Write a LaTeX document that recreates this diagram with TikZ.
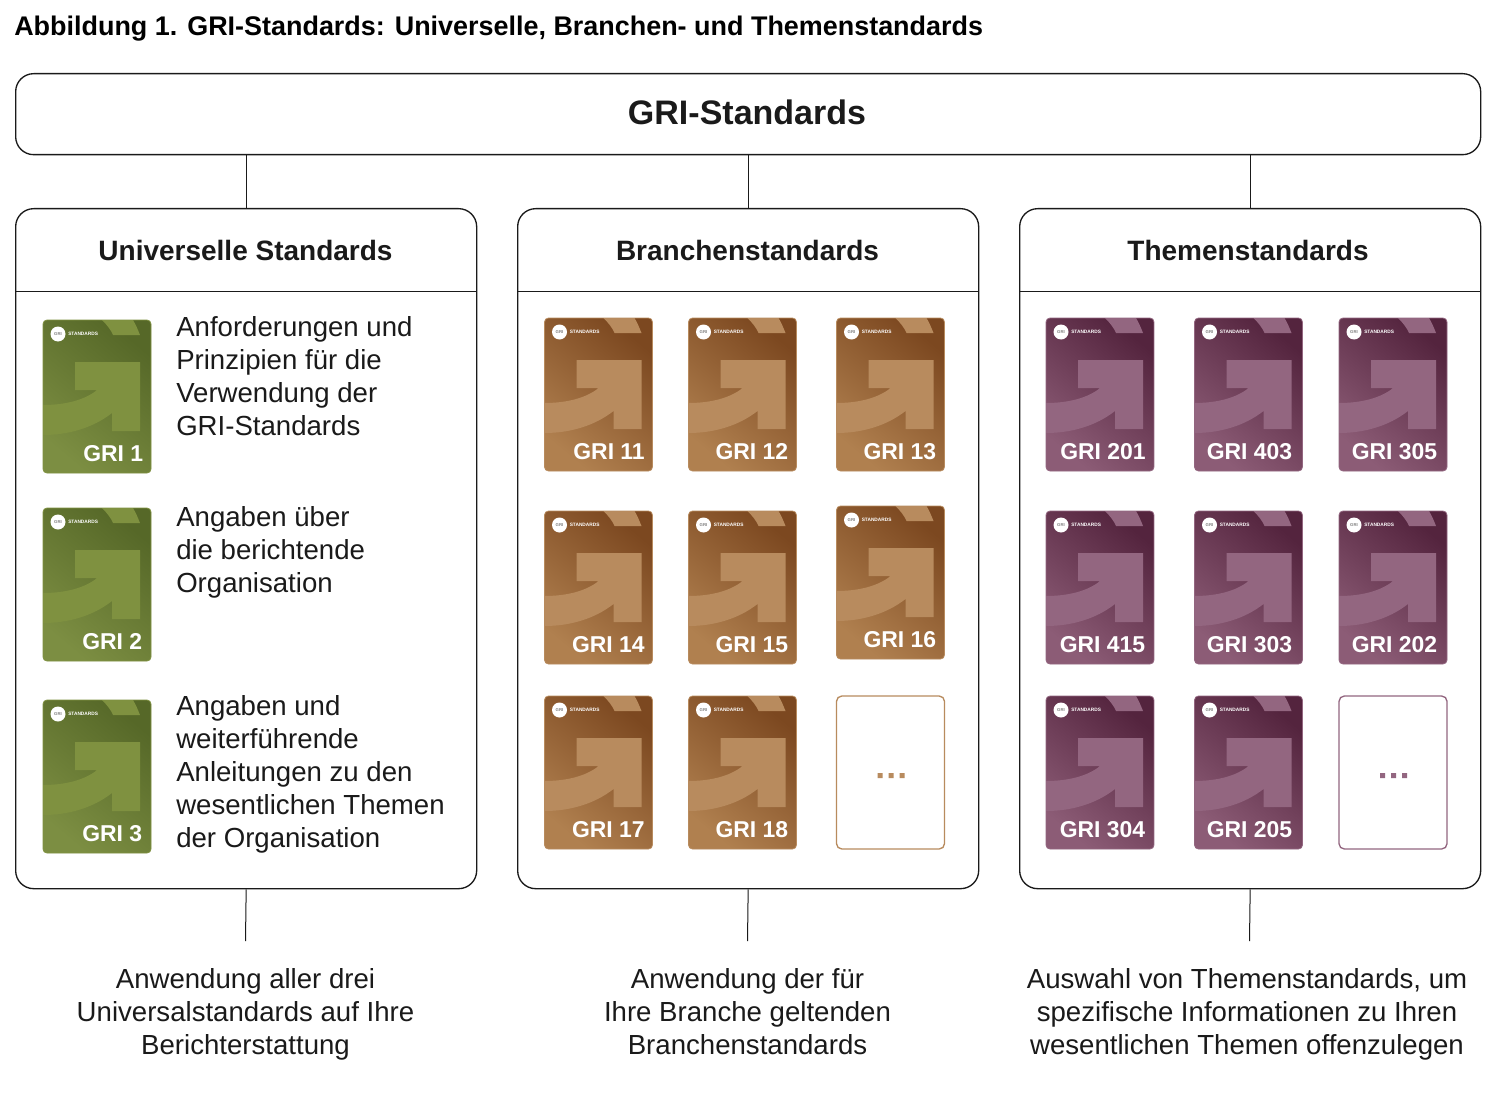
\documentclass[tikz,border=0pt]{standalone}
\usepackage{fontspec}
\setmainfont{Liberation Sans}
\newcommand{\pxfont}[2]{\fontsize{#1pt}{#2pt}\selectfont}
\definecolor{inkc}{HTML}{1A1A1A}
\definecolor{glo}{HTML}{7C8E42}\definecolor{ghi}{HTML}{566828}\definecolor{garr}{HTML}{7F9140}
\definecolor{blo}{HTML}{B0804F}\definecolor{bhi}{HTML}{7C4820}\definecolor{barr}{HTML}{B88B5E}
\definecolor{plo}{HTML}{8C5C76}\definecolor{phi}{HTML}{54243E}\definecolor{parr}{HTML}{936680}
\tikzset{x=0.75pt,y=-0.75pt,
  panel/.style={draw=inkc,line width=1pt,rounded corners=13.5pt,fill=white},
  link/.style={draw=inkc,line width=0.75pt},
  headtext/.style={font=\bfseries\pxfont{21}{25},text=inkc,anchor=base,inner sep=0pt},
  bodytext/.style={font=\pxfont{20.7}{24.75},text=inkc,anchor=north west,align=left,inner sep=0pt},
  foottext/.style={font=\pxfont{20.7}{24.75},text=inkc,anchor=north,align=center,inner sep=0pt},
  cardlabel/.style={font=\bfseries\pxfont{17.2}{20},text=white,anchor=base east,inner sep=0pt},
}
% name, x, y, label, low colour, high colour, arrow colour, label offset
\newcommand{\gribook}[8]{%
\begin{scope}[shift={(#2,#3)}]
  \begin{scope}
    \clip[rounded corners=3pt] (0,0) rectangle (108,153);
    \shade[bottom color=#5,top color=#6,shading angle=-40] (0,0) rectangle (108,153);
    \fill[#7] (32,42) -- (97,42) -- (97,111) -- (69,111) -- (69,93) .. controls (50,108) and (25,115) .. (0,115) -- (0,85) .. controls (22,85) and (42,80) .. (54,70) -- (32,70) -- cycle;
    \fill[#7] (59,0) .. controls (64,5) and (68,10) .. (70,15) -- (97,15) .. controls (95,10) and (93,5) .. (90,0) -- cycle;
  \end{scope}
  \draw[#7,line width=0.6pt,rounded corners=3pt] (0,0) rectangle (108,153);
  \fill[white] (15,14) circle (7.5);
  \node[inner sep=0pt,font=\bfseries\pxfont{3.2}{4},text=gray] at (15,14) {GRI};
  \node[inner sep=0pt,anchor=west,font=\bfseries\pxfont{3.6}{4},text=white] at (25,14) {STANDARDS};
  \node[cardlabel] (#1) at (#8,141) {#4};
\end{scope}}
\newcommand{\griblank}[4]{%
\begin{scope}[shift={(#2,#3)}]
  \draw[#4,line width=1pt,rounded corners=4pt,fill=white] (0,0) rectangle (108,153);
  \node[minimum width=5pt,minimum height=5pt,inner sep=0pt] (#1) at (54,79) {};
  \fill[#4] (41,77) rectangle +(5,5) (52,77) rectangle +(5,5) (63,77) rectangle +(5,5);
\end{scope}}
\begin{document}
\begin{tikzpicture}
\useasboundingbox (0,0) rectangle (1512,1098);
\fill[white] (0,0) rectangle (1512,1098);
\node[font=\bfseries\pxfont{20.2}{24},text=black,anchor=base west,inner sep=0pt] (title) at (14,36) {Abbildung 1. GRI-Standards: Universelle, Branchen- und Themenstandards};
% boxes as nodes
\node[panel,anchor=north west,minimum width=1465*0.75pt,minimum height=81*0.75pt,inner sep=0pt] (top) at (15,73) {};
\node[font=\bfseries\pxfont{25.5}{30},text=inkc,inner sep=0pt,anchor=base] (toplabel) at (747,125) {GRI-Standards};
\foreach \n/\px in {p1/15,p2/517,p3/1019}{
  \node[panel,anchor=north west,minimum width=461*0.75pt,minimum height=680*0.75pt,inner sep=0pt] (\n) at (\px,208) {};
  \draw[link] (\px,291) -- +(461,0);
}
\coordinate (e1) at (245.5,941);\coordinate (e2) at (747.5,941);\coordinate (e3) at (1249.5,941);
\foreach \n in {1,2,3}{
  \draw[link] (p\n.north) -- (p\n.north |- top.south);
  \draw[link] (p\n.south) -- (e\n);
}
\node[headtext] (h1) at (245.5,261) {Universelle Standards};
\node[headtext] (h2) at (747.5,261) {Branchenstandards};
\node[headtext] (h3) at (1248,261) {Themenstandards};
% green
\gribook{g1}{43}{320}{GRI 1}{glo}{ghi}{garr}{100.5}
\gribook{g2}{43}{508}{GRI 2}{glo}{ghi}{garr}{99.5}
\gribook{g3}{43}{700}{GRI 3}{glo}{ghi}{garr}{99.5}
\node[bodytext] (t1) at (176,316) {Anforderungen und\\Prinzipien für die\\Verwendung der\\GRI-Standards};
\node[bodytext] (t2) at (176,506) {Angaben über\\die berichtende\\Organisation};
\node[bodytext] (t3) at (176,695) {Angaben und\\weiterführende\\Anleitungen zu den\\wesentlichen Themen\\der Organisation};
% brown
\gribook{b11}{544.5}{318}{GRI 11}{blo}{bhi}{barr}{100.5}
\gribook{b12}{688.5}{318}{GRI 12}{blo}{bhi}{barr}{100}
\gribook{b13}{836.5}{318}{GRI 13}{blo}{bhi}{barr}{100}
\gribook{b14}{544.5}{511}{GRI 14}{blo}{bhi}{barr}{100.5}
\gribook{b15}{688.5}{511}{GRI 15}{blo}{bhi}{barr}{100}
\gribook{b16}{836.5}{506}{GRI 16}{blo}{bhi}{barr}{100}
\gribook{b17}{544.5}{696}{GRI 17}{blo}{bhi}{barr}{100.5}
\gribook{b18}{688.5}{696}{GRI 18}{blo}{bhi}{barr}{100}
\griblank{bx}{836.5}{696}{barr}
% purple
\gribook{c1}{1046}{318}{GRI 201}{plo}{phi}{parr}{100}
\gribook{c2}{1194.5}{318}{GRI 403}{plo}{phi}{parr}{98}
\gribook{c3}{1339}{318}{GRI 305}{plo}{phi}{parr}{98.5}
\gribook{c4}{1046}{511}{GRI 415}{plo}{phi}{parr}{99.5}
\gribook{c5}{1194.5}{511}{GRI 303}{plo}{phi}{parr}{98}
\gribook{c6}{1339}{511}{GRI 202}{plo}{phi}{parr}{98.5}
\gribook{c7}{1046}{696}{GRI 304}{plo}{phi}{parr}{99.5}
\gribook{c8}{1194.5}{696}{GRI 205}{plo}{phi}{parr}{98}
\griblank{cx}{1339}{696}{parr}
% footers
\node[foottext] (f1) at (245.5,968) {Anwendung aller drei\\Universalstandards auf Ihre\\Berichterstattung};
\node[foottext] (f2) at (747.5,968) {Anwendung der für\\Ihre Branche geltenden\\Branchenstandards};
\node[foottext] (f3) at (1247,968) {Auswahl von Themenstandards, um\\spezifische Informationen zu Ihren\\wesentlichen Themen offenzulegen};
\end{tikzpicture}
\end{document}
